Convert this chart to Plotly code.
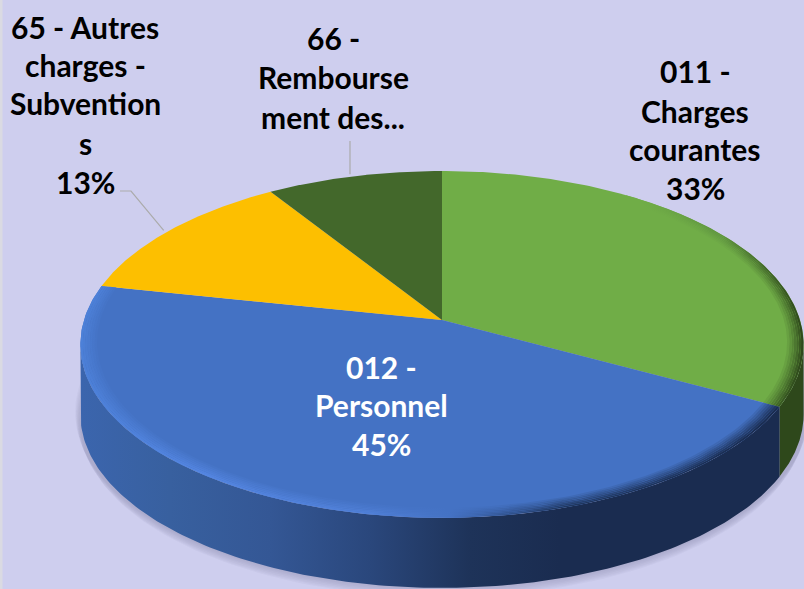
import numpy as np
import plotly.graph_objects as go

# ---- data ----
categories = ["011 - Charges courantes", "012 - Personnel",
              "65 - Autres charges - Subventions", "66 - Remboursement des..."]
shares = [32.9, 45.4, 12.7, 9.0]
slice_colors = ["#70AD47", "#4472C4", "#FDBF00", "#43682B"]

label_lines = [
    ["011 -", "Charges", "courantes", "33%"],
    ["012 -", "Personnel", "45%"],
    ["65 - Autres", "charges -", "Subvention", "s", "13%"],
    ["66 -", "Rembourse", "ment des..."],
]
label_centers = [695, 381, 85, 333]
label_line_ys = [
    [71, 111, 149, 188],
    [367, 405, 444],
    [27, 65, 103, 143, 182],
    [38, 77, 117],
]
label_colors = ["#000000", "#FFFFFF", "#000000", "#000000"]

# ---- tilted-disc projection ----
CX, CY, A, B, K = 442, 320, 358, 170, 0.141
DEPTH = 70
BG = "#CECEEE"


def project(t_deg, r=1.0, drop=0.0):
    t = np.radians(t_deg)
    u, v = r * np.sin(t), r * np.cos(t)
    w = 1 + K * v
    return CX + A * u / w, CY - B * v / w + drop


def arc(t0, t1, r=1.0, drop=0.0, n=160):
    return project(np.linspace(t0, t1, n), r, drop)


def hex_rgb(c):
    return tuple(int(c[i:i + 2], 16) for i in (1, 3, 5))


def mix(c1, c2, f):
    a, b = hex_rgb(c1), hex_rgb(c2)
    return "rgb(%d,%d,%d)" % tuple(round(a[i] + (b[i] - a[i]) * f) for i in range(3))


edges = np.concatenate([[0], np.cumsum(shares)]) * 3.6
tR = 90 + np.degrees(np.arcsin(K))
tL = 270 - np.degrees(np.arcsin(K))

fig = go.Figure()


def poly(x, y, color=None, gradient=None):
    kw = dict(x=np.asarray(x), y=np.asarray(y), mode="lines", fill="toself",
              line=dict(width=0), hoverinfo="skip", showlegend=False)
    if gradient is not None:
        kw["fillgradient"] = gradient
    else:
        kw["fillcolor"] = color
    fig.add_trace(go.Scatter(**kw))


def band(t0, t1, r0, r1, drop0=0.0, drop1=0.0, **kw):
    x0, y0 = arc(t0, t1, r0, drop0)
    x1, y1 = arc(t0, t1, r1, drop1)
    poly(np.r_[x0, x1[::-1]], np.r_[y0, y1[::-1]], **kw)


def hgrad(stops):
    lo, hi = stops[0][0], stops[-1][0]
    return dict(type="horizontal", start=lo, stop=hi,
                colorscale=[[(x - lo) / (hi - lo), c] for x, c in stops])


# soft shadow under the disc
for s, rr in zip((3, 5, 7, 9, 11, 13, 15), (1.014, 1.012, 1.010, 1.008, 1.006, 1.003, 1.0)):
    x, y = arc(60, 300, rr, DEPTH + s - 6)
    poly(np.r_[x, x[0]], np.r_[y, y[0]], color="rgba(110,105,150,0.055)")

# side wall
band(tR, edges[1], 1.0, 1.0, 0, DEPTH, color="#2E481B")
band(edges[1], tL, 1.0, 1.0, 0, DEPTH, gradient=hgrad([
    (82, "#3B65AD"), (170, "#38609F"), (270, "#345795"), (370, "#2A477C"),
    (470, "#1E3359"), (560, "#1A2C50"), (780, "#1A2C50")]))

# top face
for i in range(4):
    x, y = arc(edges[i], edges[i + 1])
    poly(np.r_[CX, x, CX], np.r_[CY, y, CY], color=slice_colors[i])

# bevel on the rim
STRIPS = 7
WIDTH = 0.045
blue_stops = [(82, "#4C80D8"), (200, "#5486E2"), (370, "#5080D8"), (450, "#4472C4"),
              (560, "#1F3760"), (780, "#1A2C50")]
green_stops = [(640, "#70AD47"), (720, "#5F9440"), (770, "#3F6227"), (804, "#2E481B")]
for j in range(STRIPS):
    f = (j + 1) / STRIPS
    r0 = 1 - WIDTH * (STRIPS - j) / STRIPS
    r1 = r0 + WIDTH / STRIPS
    band(edges[1], edges[2], r0, r1, gradient=hgrad(
        [(x, mix("#4472C4", c, f)) for x, c in blue_stops]))
    band(edges[0] + 35, edges[1], r0, r1, gradient=hgrad(
        [(x, mix("#70AD47", c, f)) for x, c in green_stops]))

# leader lines to the two outside labels
mid65 = project((edges[2] + edges[3]) / 2)
mid66 = project((edges[3] + edges[4]) / 2)
fig.add_trace(go.Scatter(x=[120, 131, mid65[0] - 6], y=[191, 191, mid65[1]], mode="lines",
                         line=dict(color="#ABABAB", width=1.2), hoverinfo="skip", showlegend=False))
fig.add_trace(go.Scatter(x=[350, 350], y=[141, mid66[1] - 2], mode="lines",
                         line=dict(color="#ABABAB", width=1.2), hoverinfo="skip", showlegend=False))

# labels
annotations = []
for lines, cx, ys, col in zip(label_lines, label_centers, label_line_ys, label_colors):
    for txt, yy in zip(lines, ys):
        annotations.append(dict(x=cx, y=yy, text="<b>%s</b>" % txt, showarrow=False,
                                xanchor="center", yanchor="middle",
                                font=dict(family="Lato, Carlito, sans-serif", size=30, color=col)))

fig.update_layout(
    width=804, height=589, margin=dict(l=0, r=0, t=0, b=0),
    paper_bgcolor=BG, plot_bgcolor=BG, showlegend=False,
    xaxis=dict(range=[0, 804], visible=False, fixedrange=True),
    yaxis=dict(range=[589, 0], visible=False, fixedrange=True),
    annotations=annotations,
    shapes=[dict(type="rect", xref="x", yref="y", x0=0, x1=2.5, y0=0, y1=589,
                 fillcolor="#DADAE2", line=dict(width=0), layer="below")],
)
fig.write_html("out.html", config=dict(displayModeBar=False),
               post_script="document.body.style.margin='0';document.body.style.overflow='hidden';")
